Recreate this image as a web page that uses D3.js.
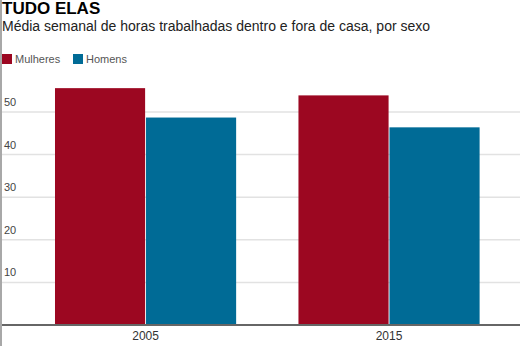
<!DOCTYPE html>
<html><head><meta charset="utf-8">
<script src="https://cdn.jsdelivr.net/npm/d3@7"></script>
<style>body{margin:0;background:#fff;}svg{display:block;font-family:"Liberation Sans",Arial,sans-serif;}</style>
</head><body>
<script>
const years = ["2005", "2015"];
const seriesNames = ["Mulheres", "Homens"];
const mulheres = [55.6, 53.9];
const homens = [48.7, 46.4];
const yTicks = [10, 20, 30, 40, 50];
const colors = ["#9c0721", "#006b96"];

const W = 520, H = 346;
const svg = d3.select("body").append("svg").attr("width", W).attr("height", H);

const data = years.map((y, i) => ({year: y, values: [mulheres[i], homens[i]]}));

const y = d3.scaleLinear().domain([0, 50]).range([325, 112]);
const x0 = d3.scaleBand().domain(years).range([6.3, 528.3]).paddingInner(0.256).paddingOuter(0.2);
const x1 = d3.scaleBand().domain(seriesNames).range([0, x0.bandwidth()]).paddingInner(0.01);

// left border line
svg.append("rect").attr("x", 0).attr("y", 0).attr("width", 2).attr("height", H).attr("fill", "#a8a8a8");

// title
svg.append("text").attr("x", 2).attr("y", 14).attr("font-size", 17).attr("font-weight", "bold").attr("fill", "#000").text("TUDO ELAS");
svg.append("text").attr("x", 2).attr("y", 31).attr("font-size", 14).attr("fill", "#222").text("Média semanal de horas trabalhadas dentro e fora de casa, por sexo");

// legend
const legX = [2, 73];
seriesNames.forEach((s, i) => {
  svg.append("rect").attr("x", legX[i]).attr("y", 54).attr("width", 10).attr("height", 10).attr("fill", colors[i]);
  svg.append("text").attr("x", legX[i] + 13).attr("y", 63).attr("font-size", 11).attr("fill", "#555").text(s);
});

// grid
const yAxis = d3.axisLeft(y).tickValues(yTicks).tickSize(0);
const grid = svg.append("g");
grid.selectAll("line").data(yTicks).join("line")
  .attr("x1", 2).attr("x2", W).attr("y1", d => y(d)).attr("y2", d => y(d))
  .attr("stroke", "#e2e2e2").attr("stroke-width", 1.5);
grid.selectAll("text").data(yTicks).join("text")
  .attr("x", 4).attr("y", d => y(d) - 6).attr("font-size", 11).attr("fill", "#444").text(d => d);

// bars
const g = svg.append("g").selectAll("g").data(data).join("g")
  .attr("transform", d => `translate(${x0(d.year)},0)`);
g.selectAll("rect").data(d => d.values.map((v, i) => ({name: seriesNames[i], v, i}))).join("rect")
  .attr("x", d => x1(d.name)).attr("width", x1.bandwidth())
  .attr("y", d => y(d.v)).attr("height", d => y(0) - y(d.v))
  .attr("fill", d => colors[d.i]);

// baseline
svg.append("line").attr("x1", 2).attr("x2", W).attr("y1", 325).attr("y2", 325).attr("stroke", "#666").attr("stroke-width", 2);

// x axis labels
const xAxis = svg.append("g").attr("transform", "translate(0,326)")
  .call(d3.axisBottom(x0).tickSize(0).tickPadding(5));
xAxis.select(".domain").remove();
xAxis.selectAll("text").attr("font-size", 12).attr("fill", "#333").attr("font-family", "Liberation Sans, Arial, sans-serif");
</script>
</body></html>
